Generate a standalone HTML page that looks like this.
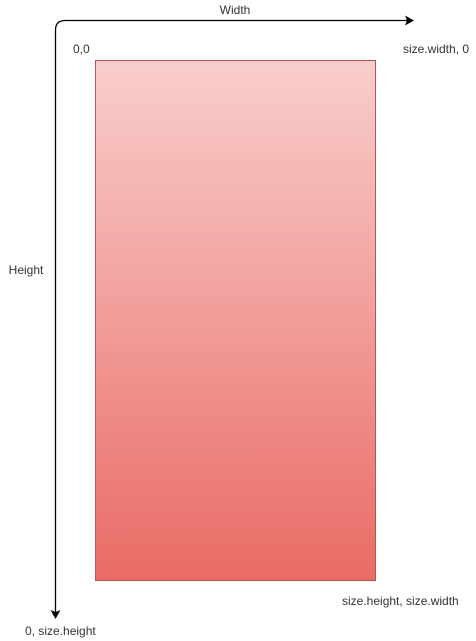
<!DOCTYPE html>
<html><head><meta charset="utf-8"><style>
html,body{margin:0;padding:0;background:#fff;}
svg{display:block;font-family:"Liberation Sans",Arial,sans-serif;}
</style></head><body>
<svg width="476" height="641" viewBox="0 0 476 641">
<defs>
<linearGradient id="g" x1="0" y1="0" x2="0" y2="1">
<stop offset="0" stop-color="#f8cecc"/><stop offset="1" stop-color="#ea6b66"/>
</linearGradient>
</defs>
<rect x="95.5" y="60.5" width="280" height="520" fill="url(#g)" stroke="#b85450" stroke-width="1"/>
<path d="M55.5 612 L55.5 30 Q55.5 20.5 65.5 20.5 L407 20.5" fill="none" stroke="#000" stroke-width="1.3"/>
<path d="M414 20.5 L405 15.5 L407 20.5 L405 25.5 Z" fill="#000"/>
<path d="M55.5 619 L50.5 610 L55.5 612 L60.5 610 Z" fill="#000"/>
<g font-size="12" fill="#333">
<text x="235" y="14" text-anchor="middle">Width</text>
<text x="26" y="274" text-anchor="middle">Height</text>
<text x="73" y="53">0,0</text>
<text x="403" y="53">size.width, 0</text>
<text x="342" y="605">size.height, size.width</text>
<text x="25" y="635">0, size.height</text>
</g>
</svg>
</body></html>
